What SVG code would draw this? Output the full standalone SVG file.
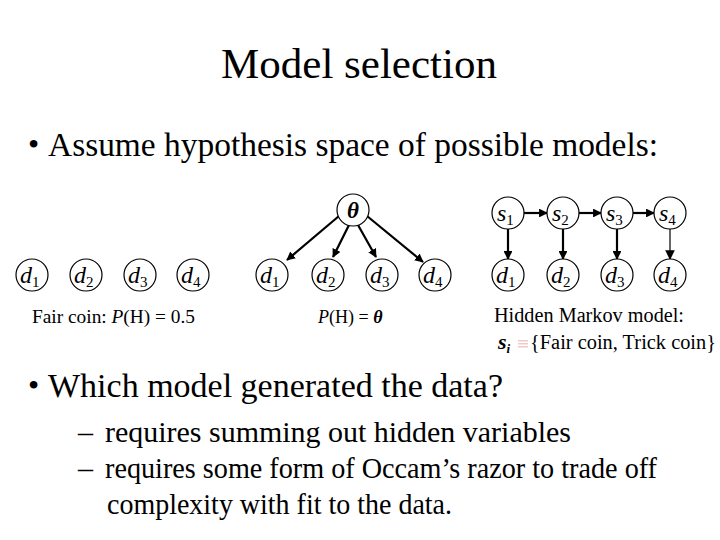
<svg xmlns="http://www.w3.org/2000/svg" width="720" height="540" viewBox="0 0 720 540">
<style>
text{font-family:"Liberation Serif","Times New Roman",serif;fill:#000}
.node circle{fill:#fff;stroke:#000;stroke-width:1.2}
.lbl{font-size:24px;font-style:italic}
.sub{font-size:15px;font-style:normal}
.cap{font-size:18px}
.bul{font-size:32px}
.edge{stroke:#000;stroke-width:2.2;fill:none;marker-end:url(#ah)}
.thin{stroke-width:1.2}
</style>
<defs>
<marker id="ah" viewBox="0 0 10 10" refX="9" refY="5" markerWidth="4" markerHeight="4" orient="auto" markerUnits="strokeWidth">
<path d="M0,0 L10,5 L0,10 z" fill="#000"/>
</marker>
<marker id="ah2" viewBox="0 0 10 10" refX="9" refY="5" markerWidth="8" markerHeight="8" orient="auto" markerUnits="strokeWidth">
<path d="M0,0 L10,5 L0,10 z" fill="#000"/>
</marker>
</defs>
<rect width="720" height="540" fill="#fff"/>
<text x="359" y="78" font-size="43" text-anchor="middle">Model selection</text>
<text class="bul" x="28" y="155">•</text>
<text x="48" y="156" font-size="33" textLength="610" lengthAdjust="spacingAndGlyphs">Assume hypothesis space of possible models:</text>

<g id="connectors">
<line class="edge" x1="339" y1="216" x2="287" y2="260"/>
<line class="edge" x1="349" y1="225" x2="333" y2="257"/>
<line class="edge" x1="358" y1="225" x2="376" y2="257"/>
<line class="edge" x1="367" y1="216" x2="423" y2="262"/>
<line class="edge" x1="524" y1="213" x2="547" y2="213"/>
<line class="edge" x1="579" y1="213" x2="601" y2="213"/>
<line class="edge" x1="633" y1="213" x2="654" y2="213"/>
<line class="edge" x1="508" y1="229" x2="508" y2="259"/>
<line class="edge" x1="563" y1="229" x2="563" y2="259"/>
<line class="edge" x1="617" y1="229" x2="617" y2="259"/>
<line class="edge thin" style="marker-end:url(#ah2)" x1="670" y1="229" x2="670" y2="259"/>
</g>

<g id="m1-d1" class="node"><circle cx="32" cy="275" r="16"/><text class="lbl" x="20" y="283">d<tspan class="sub" dy="4">1</tspan></text></g>
<g id="m1-d2" class="node"><circle cx="86" cy="275" r="16"/><text class="lbl" x="74" y="283">d<tspan class="sub" dy="4">2</tspan></text></g>
<g id="m1-d3" class="node"><circle cx="140" cy="275" r="16"/><text class="lbl" x="128" y="283">d<tspan class="sub" dy="4">3</tspan></text></g>
<g id="m1-d4" class="node"><circle cx="193" cy="275" r="16"/><text class="lbl" x="181" y="283">d<tspan class="sub" dy="4">4</tspan></text></g>
<text class="cap" x="32" y="323" textLength="163" lengthAdjust="spacingAndGlyphs">Fair coin: <tspan font-style="italic">P</tspan>(H) = 0.5</text>

<g id="m2-theta" class="node"><circle cx="353" cy="210" r="16"/><text x="353" y="218" font-size="23" font-style="italic" font-weight="bold" text-anchor="middle">θ</text></g>
<g id="m2-d1" class="node"><circle cx="272" cy="275" r="16"/><text class="lbl" x="260" y="283">d<tspan class="sub" dy="4">1</tspan></text></g>
<g id="m2-d2" class="node"><circle cx="328" cy="275" r="16"/><text class="lbl" x="316" y="283">d<tspan class="sub" dy="4">2</tspan></text></g>
<g id="m2-d3" class="node"><circle cx="382" cy="275" r="16"/><text class="lbl" x="370" y="283">d<tspan class="sub" dy="4">3</tspan></text></g>
<g id="m2-d4" class="node"><circle cx="435" cy="275" r="16"/><text class="lbl" x="423" y="283">d<tspan class="sub" dy="4">4</tspan></text></g>
<text class="cap" x="318" y="323"><tspan font-style="italic">P</tspan>(H) = <tspan font-style="italic" font-weight="bold">θ</tspan></text>

<g id="m3-s1" class="node"><circle cx="508" cy="213" r="16"/><text class="lbl" x="497" y="221">s<tspan class="sub" dy="4">1</tspan></text></g>
<g id="m3-s2" class="node"><circle cx="563" cy="213" r="16"/><text class="lbl" x="552" y="221">s<tspan class="sub" dy="4">2</tspan></text></g>
<g id="m3-s3" class="node"><circle cx="617" cy="213" r="16"/><text class="lbl" x="606" y="221">s<tspan class="sub" dy="4">3</tspan></text></g>
<g id="m3-s4" class="node"><circle cx="670" cy="213" r="16"/><text class="lbl" x="659" y="221">s<tspan class="sub" dy="4">4</tspan></text></g>
<g id="m3-d1" class="node"><circle cx="508" cy="275" r="16"/><text class="lbl" x="496" y="283">d<tspan class="sub" dy="4">1</tspan></text></g>
<g id="m3-d2" class="node"><circle cx="563" cy="275" r="16"/><text class="lbl" x="551" y="283">d<tspan class="sub" dy="4">2</tspan></text></g>
<g id="m3-d3" class="node"><circle cx="617" cy="275" r="16"/><text class="lbl" x="605" y="283">d<tspan class="sub" dy="4">3</tspan></text></g>
<g id="m3-d4" class="node"><circle cx="670" cy="275" r="16"/><text class="lbl" x="658" y="283">d<tspan class="sub" dy="4">4</tspan></text></g>
<text x="494" y="322" font-size="20" textLength="190" lengthAdjust="spacingAndGlyphs">Hidden Markov model:</text>
<text x="498" y="349" font-size="22" font-style="italic" font-weight="bold">s<tspan font-size="13" dy="4">i</tspan></text>
<g fill="#f4c8c8"><rect x="518" y="340" width="10" height="1.5"/><rect x="518" y="343" width="10" height="1.5"/><rect x="518" y="346" width="10" height="1.5"/></g>
<text x="530" y="349" font-size="20" textLength="186" lengthAdjust="spacingAndGlyphs">{Fair coin, Trick coin}</text>

<text class="bul" x="28" y="396">•</text>
<text x="48" y="397" font-size="33" textLength="455" lengthAdjust="spacingAndGlyphs">Which model generated the data?</text>
<text x="78" y="442" font-size="30">–</text>
<text x="105" y="442" font-size="30" textLength="466" lengthAdjust="spacingAndGlyphs">requires summing out hidden variables</text>
<text x="78" y="478" font-size="30">–</text>
<text x="105" y="478" font-size="30" textLength="552" lengthAdjust="spacingAndGlyphs">requires some form of Occam’s razor to trade off</text>
<text x="107" y="514" font-size="30" textLength="345" lengthAdjust="spacingAndGlyphs">complexity with fit to the data.</text>
</svg>
